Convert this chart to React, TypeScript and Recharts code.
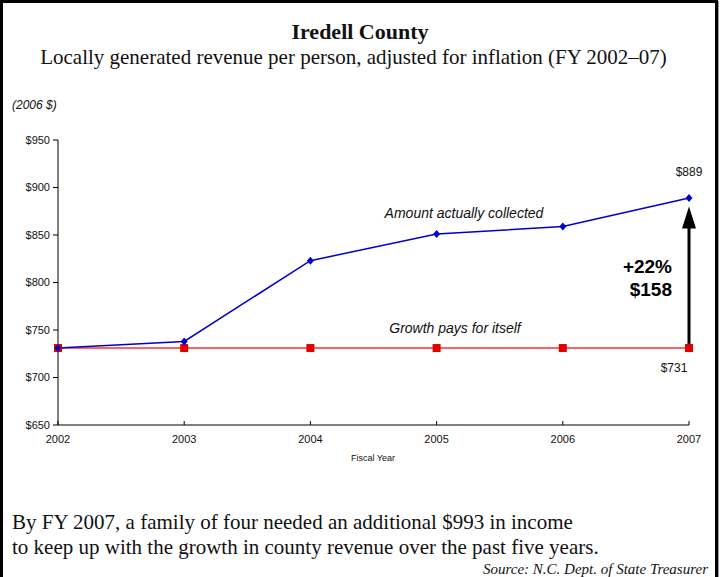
import { LineChart, Line, XAxis, YAxis, ReferenceDot, ReferenceLine, Label } from 'recharts';

const years = [2002, 2003, 2004, 2005, 2006, 2007];
const collected = [731, 738, 823, 851, 859, 889];
const growthPays = [731, 731, 731, 731, 731, 731];
const yTicks = [650, 700, 750, 800, 850, 900, 950];

const data = years.map((year, i) => ({
  year,
  collected: collected[i],
  growth: growthPays[i],
}));

const SANS = '"Liberation Sans", Arial, sans-serif';
const SERIF = '"Liberation Serif", "Times New Roman", serif';

// arrow from the baseline up to (just below) the 2007 value
const Arrow = (props: any) => {
  const { x1, y1, x2, y2 } = props;
  const tipY = Math.min(y1, y2);
  const baseY = Math.max(y1, y2);
  return (
    <g>
      <line x1={x1} y1={baseY} x2={x2} y2={tipY + 18} stroke="#000" strokeWidth={3} />
      <polygon points={`${x1},${tipY} ${x1 - 7},${tipY + 22} ${x1 + 7},${tipY + 22}`} fill="#000" />
    </g>
  );
};

const Diamond = (props: any) => {
  const { cx, cy } = props;
  return <polygon points={`${cx},${cy - 4} ${cx + 3.5},${cy} ${cx},${cy + 4} ${cx - 3.5},${cy}`} fill="#0000CC" />;
};

const Square = (props: any) => {
  const { cx, cy } = props;
  return <rect x={cx - 4} y={cy - 4} width={8} height={8} fill="#E00000" />;
};

export default function App() {
  return (
    <div style={{ position: 'absolute', left: 0, top: 0, width: 723, height: 577, background: '#fff', overflow: 'hidden' }}>
      <div
        style={{
          position: 'absolute',
          left: 0,
          top: 0,
          width: 712,
          height: 590,
          border: '3px solid #000',
          boxShadow: '1px 1px 0 #999',
        }}
      />
      <div style={{ position: 'absolute', left: 0, width: 720, top: 19, textAlign: 'center', fontFamily: SERIF, fontWeight: 'bold', fontSize: 22, lineHeight: '26px', color: '#111' }}>
        Iredell County
      </div>
      <div style={{ position: 'absolute', left: 0, width: 707, top: 44, textAlign: 'center', fontFamily: SERIF, fontSize: 21, lineHeight: '26px', color: '#111' }}>
        Locally generated revenue per person, adjusted for inflation (FY 2002–07)
      </div>
      <div style={{ position: 'absolute', left: 12, top: 98, fontFamily: SANS, fontStyle: 'italic', fontSize: 12, color: '#111' }}>
        (2006 $)
      </div>

      <div style={{ position: 'absolute', left: 0, top: 0 }}>
        <LineChart width={723} height={577} data={data} margin={{ top: 140, right: 34, bottom: 122, left: 8 }}>
          <XAxis
            dataKey="year"
            type="number"
            domain={[2002, 2007]}
            ticks={years}
            tickSize={-4}
            tickMargin={14}
            height={30}
            stroke="#000"
            tick={{ fill: '#111', fontSize: 11, fontFamily: SANS }}
          />
          <YAxis
            type="number"
            domain={[650, 950]}
            ticks={yTicks}
            width={50}
            tickSize={5}
            tickMargin={3}
            stroke="#000"
            tickFormatter={(v: number) => `$${v}`}
            tick={{ fill: '#111', fontSize: 11, fontFamily: SANS }}
          />
          <ReferenceLine segment={[{ x: 2007, y: 731 }, { x: 2007, y: 880 }]} shape={Arrow} ifOverflow="visible" />
          <Line type="linear" dataKey="growth" stroke="#FF3030" strokeWidth={1.5} dot={<Square />} isAnimationActive={false} />
          <Line type="linear" dataKey="collected" stroke="#0000CC" strokeWidth={1.5} dot={<Diamond />} isAnimationActive={false} />
          <ReferenceDot x={2007} y={889} r={0} stroke="none" ifOverflow="visible">
            <Label value="$889" position="top" offset={22} fill="#111" fontSize={12} fontFamily={SANS} />
          </ReferenceDot>
          <ReferenceDot x={2007} y={731} r={0} stroke="none" ifOverflow="visible">
            <Label value="$731" dx={-15} dy={20} fill="#111" fontSize={12} fontFamily={SANS} />
          </ReferenceDot>
        </LineChart>
      </div>

      <div style={{ position: 'absolute', left: 373, top: 453, transform: 'translateX(-50%)', fontFamily: SANS, fontSize: 9, color: '#111' }}>
        Fiscal Year
      </div>
      <div style={{ position: 'absolute', left: 464, top: 205, transform: 'translateX(-50%)', whiteSpace: 'nowrap', fontFamily: SANS, fontStyle: 'italic', fontSize: 14, color: '#111' }}>
        Amount actually collected
      </div>
      <div style={{ position: 'absolute', left: 455, top: 320, transform: 'translateX(-50%)', whiteSpace: 'nowrap', fontFamily: SANS, fontStyle: 'italic', fontSize: 14, color: '#111' }}>
        Growth pays for itself
      </div>
      <div style={{ position: 'absolute', right: 723 - 672, top: 255, textAlign: 'right', fontFamily: SANS, fontWeight: 'bold', fontSize: 19, lineHeight: '23px', color: '#000' }}>
        +22%
        <br />
        $158
      </div>

      <div style={{ position: 'absolute', left: 12, top: 511, whiteSpace: 'nowrap', fontFamily: SERIF, fontSize: 21, lineHeight: '22px', color: '#111' }}>
        By FY 2007, a family of four needed an additional $993 in income
      </div>
      <div style={{ position: 'absolute', left: 12, top: 538, whiteSpace: 'nowrap', fontFamily: SERIF, fontSize: 21, lineHeight: '18px', color: '#111' }}>
        to keep up with the growth in county revenue over the past five years.
      </div>
      <div style={{ position: 'absolute', right: 723 - 708, top: 563, whiteSpace: 'nowrap', fontFamily: SERIF, fontStyle: 'italic', fontSize: 15, lineHeight: '13px', color: '#111' }}>
        Source: N.C. Dept. of State Treasurer
      </div>
    </div>
  );
}
